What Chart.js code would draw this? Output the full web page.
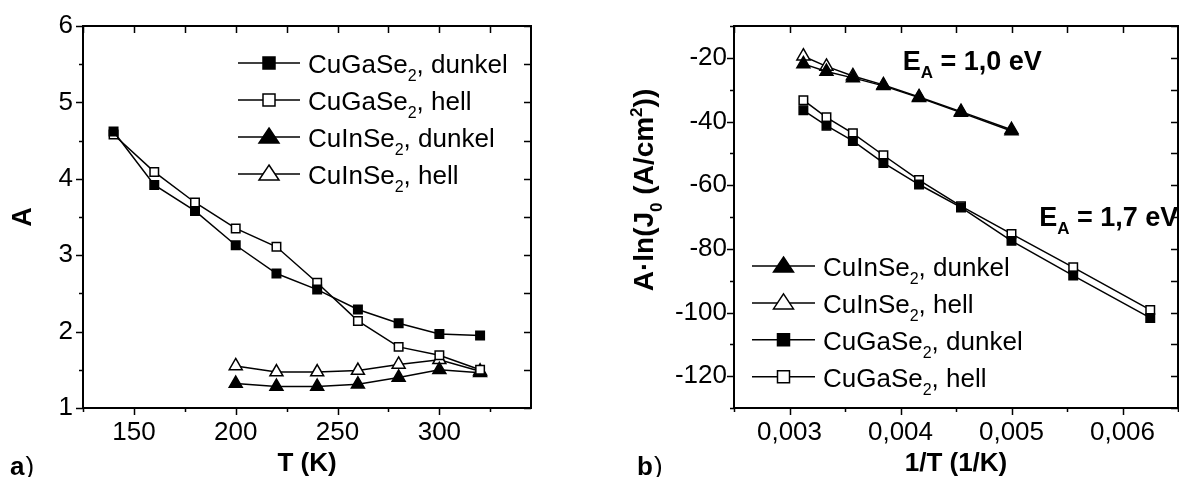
<!DOCTYPE html>
<html>
<head>
<meta charset="utf-8">
<script src="https://cdn.jsdelivr.net/npm/chart.js@4.4.1/dist/chart.umd.min.js"></script>
<style>
  body { margin: 0; background: #fff; }
  #wrap { position: relative; width: 1179px; height: 477px; overflow: hidden; }
  #chartA { position: absolute; left: 0; top: 0; }
  #chartB { position: absolute; left: 560px; top: 0; }
</style>
</head>
<body>
<div id="wrap">
  <canvas id="chartA" width="560" height="477"></canvas>
  <canvas id="chartB" width="619" height="477"></canvas>
</div>
<script>
// ---- panel a) : ideality factor A vs temperature ----
const tempCgs = [140, 160, 180, 200, 220, 240, 260, 280, 300, 320];
const aCgsDark = [4.62, 3.92, 3.58, 3.13, 2.76, 2.55, 2.29, 2.11, 1.97, 1.95];
const aCgsLight = [4.58, 4.09, 3.69, 3.35, 3.11, 2.64, 2.14, 1.80, 1.69, 1.50];
const tempCis = [200, 220, 240, 260, 280, 300, 320];
const aCisDark = [1.32, 1.28, 1.28, 1.31, 1.40, 1.50, 1.46];
const aCisLight = [1.55, 1.47, 1.47, 1.49, 1.57, 1.63, 1.48];

const aTicksX = [150, 200, 250, 300];
const aMinorX = [125, 175, 225, 275, 325];
const aTicksY = [1, 2, 3, 4, 5, 6];
const aMinorY = [1.5, 2.5, 3.5, 4.5, 5.5];

// ---- panel b) : A*ln(J0) vs 1/T ----
const invTCis = [0.003125, 0.003333, 0.003571, 0.003846, 0.004167, 0.004545, 0.005];
const lnCisDark = [-21.9, -24.3, -26.3, -28.8, -32.5, -37.2, -43.0];
const lnCisLight = [-19.5, -22.7, -25.7, -28.5, -32.3, -36.9, -42.6];
const invTCgs = [0.003125, 0.003333, 0.003571, 0.003846, 0.004167, 0.004545, 0.005, 0.005556, 0.00625];
const lnCgsDark = [-36.5, -41.3, -46.1, -53.0, -59.8, -67.0, -77.5, -88.4, -101.7];
const lnCgsLight = [-33.3, -38.7, -43.7, -50.6, -58.4, -66.6, -75.3, -85.8, -99.2];

const bTicksX = [0.003, 0.004, 0.005, 0.006];
const bMinorX = [0.0025, 0.0035, 0.0045, 0.0055, 0.0065];
const bTicksY = [-120, -100, -80, -60, -40, -20];
const bMinorY = [-130, -110, -90, -70, -50, -30, -10];

const FONT = '"Liberation Sans", Arial, sans-serif';
Chart.defaults.font.family = FONT;
Chart.defaults.color = '#000';

// text with _x (subscript) and ^x (superscript) markers
function parseRich(str) {
  const out = [];
  let buf = '';
  for (let i = 0; i < str.length; i++) {
    const c = str[i];
    if ((c === '_' || c === '^') && i + 1 < str.length) {
      if (buf) { out.push({ t: buf, k: 0 }); buf = ''; }
      out.push({ t: str[i + 1], k: c === '_' ? 1 : -1 });
      i++;
    } else {
      buf += c;
    }
  }
  if (buf) out.push({ t: buf, k: 0 });
  return out;
}

function drawRich(ctx, str, x, y, size, weight, align) {
  const parts = parseRich(str);
  const fontFor = k => weight + ' ' + (k ? Math.round(size * 0.62) : size) + 'px ' + FONT;
  let w = 0;
  parts.forEach(p => { ctx.font = fontFor(p.k); p.w = ctx.measureText(p.t).width; w += p.w; });
  let cx = align === 'center' ? x - w / 2 : x;
  ctx.textAlign = 'left';
  ctx.textBaseline = 'alphabetic';
  parts.forEach(p => {
    ctx.font = fontFor(p.k);
    const dy = p.k === 1 ? size * 0.32 : (p.k === -1 ? -size * 0.4 : 0);
    ctx.fillText(p.t, cx, y + dy);
    cx += p.w;
  });
}

function drawMarker(ctx, style, fill, x, y, big) {
  ctx.beginPath();
  if (style === 'rect') {
    const h = big ? 6 : 4.5;
    ctx.rect(x - h, y - h, 2 * h, 2 * h);
  } else {
    const hw = big ? 10 : 6.5, up = big ? 9 : 7.5, dn = big ? 6 : 4;
    ctx.moveTo(x, y - up); ctx.lineTo(x + hw, y + dn); ctx.lineTo(x - hw, y + dn); ctx.closePath();
  }
  ctx.fillStyle = fill;
  ctx.fill();
  ctx.lineWidth = 1.5;
  ctx.strokeStyle = '#000';
  ctx.stroke();
}

// box frame and tick marks (major/minor, inner ticks on top and right)
const framePlugin = {
  id: 'frame',
  afterDatasetsDraw(chart, args, o) {
    const ctx = chart.ctx;
    const { left, right, top, bottom } = chart.chartArea;
    const xs = chart.scales.x, ys = chart.scales.y;
    ctx.save();
    ctx.strokeStyle = '#000';
    ctx.lineWidth = 2;
    ctx.beginPath();
    ctx.moveTo(left, top); ctx.lineTo(right, top); ctx.lineTo(right, bottom);
    ctx.stroke();
    ctx.lineWidth = 1.5;
    ctx.beginPath();
    o.xMajor.forEach(v => {
      const p = Math.round(xs.getPixelForValue(v)) + 0.5;
      ctx.moveTo(p, bottom); ctx.lineTo(p, bottom + 7);
      ctx.moveTo(p, top); ctx.lineTo(p, top + 7);
    });
    o.xMinor.forEach(v => {
      const p = Math.round(xs.getPixelForValue(v)) + 0.5;
      ctx.moveTo(p, bottom); ctx.lineTo(p, bottom + 4);
      ctx.moveTo(p, top); ctx.lineTo(p, top + 7);
    });
    o.yMajor.forEach(v => {
      const p = Math.round(ys.getPixelForValue(v)) + 0.5;
      ctx.moveTo(left, p); ctx.lineTo(left - 7, p);
      ctx.moveTo(right, p); ctx.lineTo(right - 7, p);
    });
    o.yMinor.forEach(v => {
      const p = Math.round(ys.getPixelForValue(v)) + 0.5;
      ctx.moveTo(left, p); ctx.lineTo(left - 4, p);
      ctx.moveTo(right, p); ctx.lineTo(right - 7, p);
    });
    ctx.stroke();
    ctx.restore();
  }
};

// legend drawn as line-marker-line plus label with subscripts
const richLegend = {
  id: 'richLegend',
  afterDraw(chart, args, o) {
    const ctx = chart.ctx;
    const { left, top } = chart.chartArea;
    ctx.save();
    ctx.fillStyle = '#000';
    chart.data.datasets.forEach((ds, i) => {
      const y = top + o.y + i * o.step;
      const x0 = left + o.x;
      ctx.beginPath();
      ctx.moveTo(x0, y); ctx.lineTo(x0 + o.len, y);
      ctx.lineWidth = 1.5; ctx.strokeStyle = '#000';
      ctx.stroke();
      drawMarker(ctx, ds.pointStyle, ds.pointBackgroundColor, x0 + o.len / 2, y, true);
      ctx.fillStyle = '#000';
      drawRich(ctx, ds.label, x0 + o.len + 8, y + 10, 26, 'normal', 'left');
    });
    ctx.restore();
  }
};

// free texts: panel letter, annotations, rich axis title
const notesPlugin = {
  id: 'notes',
  afterDraw(chart, args, o) {
    const ctx = chart.ctx;
    ctx.save();
    ctx.fillStyle = '#000';
    ctx.textBaseline = 'alphabetic';
    ctx.textAlign = 'left';
    ctx.font = 'bold 26px ' + FONT;
    ctx.fillText(o.letter, o.letterX, 475);
    const lw = ctx.measureText(o.letter).width;
    ctx.font = '26px ' + FONT;
    ctx.fillText(')', o.letterX + lw + 1, 475);
    (o.texts || []).forEach(t => {
      const px = chart.scales.x.getPixelForValue(t.x);
      const py = chart.scales.y.getPixelForValue(t.y);
      drawRich(ctx, t.text, px, py, 27, 'bold', 'left');
    });
    if (o.yTitle) {
      ctx.translate(o.yTitle.x, o.yTitle.y);
      ctx.rotate(-Math.PI / 2);
      drawRich(ctx, o.yTitle.text, 0, 0, 28, 'bold', 'center');
    }
    ctx.restore();
  }
};

function series(label, xs, ys, style, fill) {
  return {
    label: label,
    data: xs.map((x, i) => ({ x: x, y: ys[i] })),
    showLine: true,
    borderColor: '#000',
    borderWidth: 1.5,
    backgroundColor: fill,
    pointStyle: style,
    pointRadius: style === 'rect' ? 6 : 7.5,
    pointHoverRadius: style === 'rect' ? 6 : 7.5,
    pointBackgroundColor: fill,
    pointBorderColor: '#000',
    pointBorderWidth: 1.5
  };
}

function axis(min, max, ticks, fmt, fitKey, fitVal, title, pad) {
  return {
    type: 'linear',
    min: min,
    max: max,
    grid: { display: false, drawTicks: false },
    border: { display: true, color: '#000', width: 2 },
    afterBuildTicks: s => { s.ticks = ticks.map(v => ({ value: v })); },
    afterFit: s => {
      s[fitKey] = fitVal;
      // keep the plot box where we put it, labels may overhang
      s.paddingLeft = 0; s.paddingRight = 0; s.paddingTop = 0; s.paddingBottom = 0;
    },
    ticks: { color: '#000', font: { size: 26 }, padding: pad, maxRotation: 0, callback: fmt },
    title: title
  };
}

new Chart(document.getElementById('chartA'), {
  type: 'scatter',
  data: {
    datasets: [
      series('CuGaSe_2, dunkel', tempCgs, aCgsDark, 'rect', '#000'),
      series('CuGaSe_2, hell', tempCgs, aCgsLight, 'rect', '#fff'),
      series('CuInSe_2, dunkel', tempCis, aCisDark, 'triangle', '#000'),
      series('CuInSe_2, hell', tempCis, aCisLight, 'triangle', '#fff')
    ]
  },
  options: {
    responsive: false,
    animation: false,
    layout: { autoPadding: false, padding: { top: 26, right: 29, left: 0, bottom: 0 } },
    plugins: {
      legend: { display: false },
      tooltip: { enabled: false },
      frame: { xMajor: aTicksX, xMinor: aMinorX, yMajor: aTicksY, yMinor: aMinorY },
      richLegend: { x: 155, y: 37, step: 37, len: 62 },
      notes: { letter: 'a', letterX: 10 }
    },
    scales: {
      x: axis(125, 345, aTicksX, v => String(v), 'height', 69,
        { display: true, text: 'T (K)', color: '#000', font: { size: 26, weight: 'bold', lineHeight: 1 }, padding: 0 }, 9),
      y: axis(1, 6, aTicksY, v => String(v), 'width', 83,
        { display: true, text: 'A', color: '#000', font: { size: 27, weight: 'bold', lineHeight: 1 }, padding: { top: 10, bottom: 0 } }, 10)
    }
  },
  plugins: [framePlugin, richLegend, notesPlugin]
});

new Chart(document.getElementById('chartB'), {
  type: 'scatter',
  data: {
    datasets: [
      series('CuInSe_2, dunkel', invTCis, lnCisDark, 'triangle', '#000'),
      series('CuInSe_2, hell', invTCis, lnCisLight, 'triangle', '#fff'),
      series('CuGaSe_2, dunkel', invTCgs, lnCgsDark, 'rect', '#000'),
      series('CuGaSe_2, hell', invTCgs, lnCgsLight, 'rect', '#fff')
    ]
  },
  options: {
    responsive: false,
    animation: false,
    layout: { autoPadding: false, padding: { top: 26, right: 1, left: 0, bottom: 0 } },
    plugins: {
      legend: { display: false },
      tooltip: { enabled: false },
      frame: { xMajor: bTicksX, xMinor: bMinorX, yMajor: bTicksY, yMinor: bMinorY },
      richLegend: { x: 18, y: 240, step: 36.9, len: 63 },
      notes: {
        letter: 'b', letterX: 77,
        texts: [
          { x: 0.00402, y: -23.7, text: 'E_A = 1,0 eV' },
          { x: 0.00525, y: -72.7, text: 'E_A = 1,7 eV' }
        ],
        yTitle: { x: 93, y: 190, text: 'A\u00b7ln(J_0 (A/cm^2))' }
      }
    },
    scales: {
      x: axis(0.0025, 0.0065, bTicksX, v => v.toFixed(3).replace('.', ','), 'height', 69,
        { display: true, text: '1/T (1/K)', color: '#000', font: { size: 26, weight: 'bold', lineHeight: 1 }, padding: 0 }, 9),
      y: axis(-130, -10, bTicksY, v => String(v), 'width', 174, { display: false }, 7)
    }
  },
  plugins: [framePlugin, richLegend, notesPlugin]
});
</script>
</body>
</html>
